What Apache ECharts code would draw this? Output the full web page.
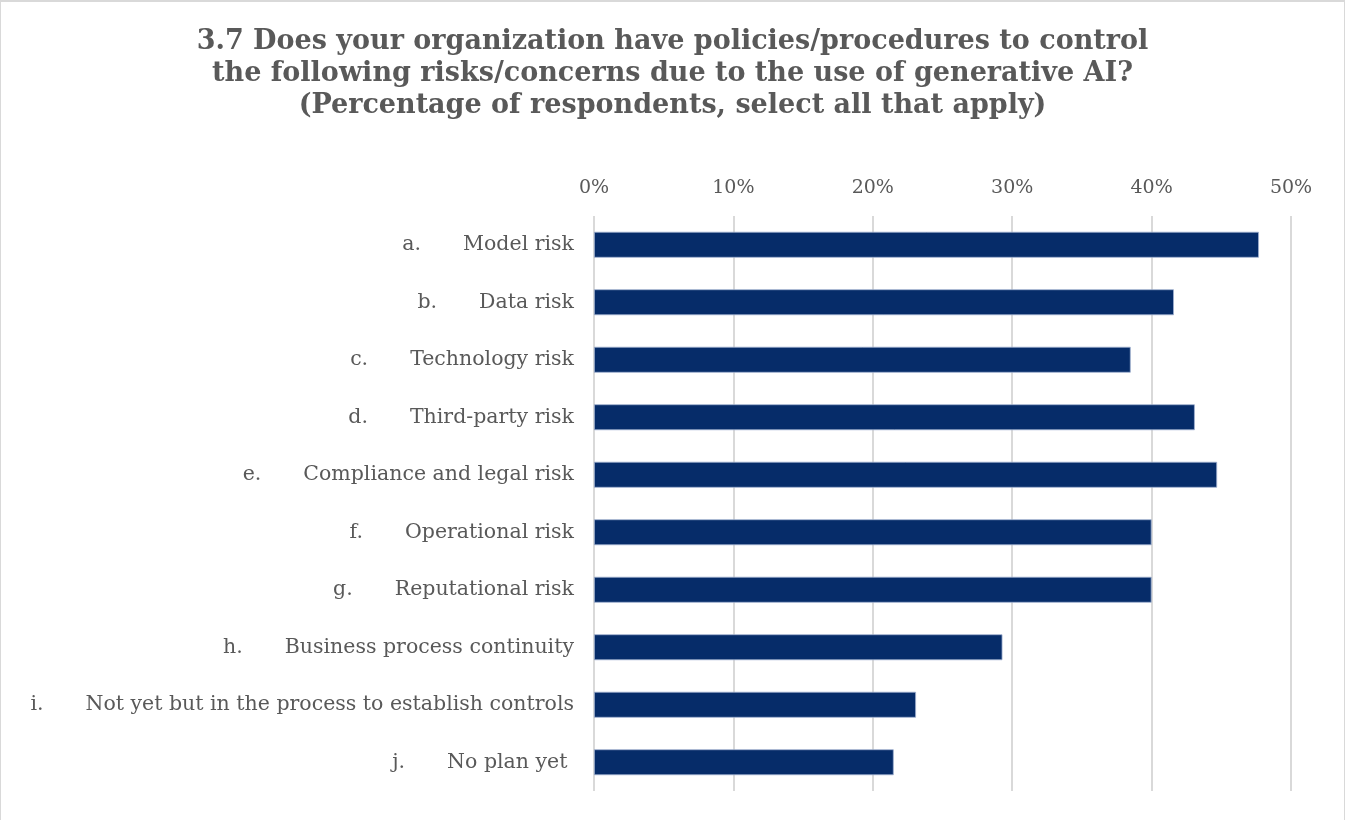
<!DOCTYPE html>
<html>
<head>
<meta charset="utf-8">
<script src="https://cdn.jsdelivr.net/npm/echarts@6/dist/echarts.min.js"></script>
<style>
  html, body { margin: 0; padding: 0; background: #fff; }
  #chart {
    width: 1345px; height: 820px; box-sizing: border-box;
    border-left: 1px solid #d9d9d9; border-right: 1px solid #d9d9d9; border-top: 2px solid #d9d9d9;
  }
</style>
</head>
<body>
<div id="chart"></div>
<script>
// Survey question 3.7: share of respondents with controls per risk type
const letters = ['a.', 'b.', 'c.', 'd.', 'e.', 'f.', 'g.', 'h.', 'i.', 'j.'];
const categories = [
  'Model risk',
  'Data risk',
  'Technology risk',
  'Third-party risk',
  'Compliance and legal risk',
  'Operational risk',
  'Reputational risk',
  'Business process continuity',
  'Not yet but in the process to establish controls',
  'No plan yet '
];
const percentages = [47.7, 41.6, 38.5, 43.1, 44.7, 40.0, 40.0, 29.3, 23.1, 21.5];
const tickValues = [0, 10, 20, 30, 40, 50];

const serif = 'DejaVu Serif';
const textGray = '#595959';

const chart = echarts.init(document.getElementById('chart'), null, { renderer: 'canvas' });

chart.setOption({
  animation: false,
  backgroundColor: '#ffffff',
  title: {
    text: '3.7 Does your organization have policies/procedures to control\nthe following risks/concerns due to the use of generative AI?\n(Percentage of respondents, select all that apply)',
    left: 'center',
    top: 19,
    textStyle: {
      fontFamily: serif,
      fontWeight: 'bold',
      fontSize: 27,
      lineHeight: 32,
      color: textGray
    }
  },
  grid: {
    left: 593,
    right: 53,
    top: 214,
    bottom: 29,
    containLabel: false
  },
  xAxis: {
    type: 'value',
    position: 'top',
    min: tickValues[0],
    max: tickValues[tickValues.length - 1],
    interval: 10,
    axisLine: { show: false },
    axisTick: { show: false },
    axisLabel: {
      formatter: v => v + '%',
      fontFamily: serif,
      fontSize: 19,
      color: textGray,
      margin: 18
    },
    splitLine: { show: true, lineStyle: { color: '#d9d9d9', width: 2 } }
  },
  yAxis: {
    type: 'category',
    inverse: true,
    data: categories,
    axisLine: { show: false },
    axisTick: { show: false },
    axisLabel: {
      margin: 20,
      formatter: (value, idx) => '{p|' + letters[idx] + '}{n|' + value + '}',
      rich: {
        p: { fontFamily: serif, fontSize: 20.5, color: textGray, padding: [0, 42, 0, 0] },
        n: { fontFamily: serif, fontSize: 20.5, color: textGray }
      }
    }
  },
  series: [{
    type: 'bar',
    data: percentages,
    barCategoryGap: '55%',
    itemStyle: {
      color: '#062c69',
      borderColor: '#9fb0cf',
      borderWidth: 0.8
    }
  }]
});
</script>
</body>
</html>
